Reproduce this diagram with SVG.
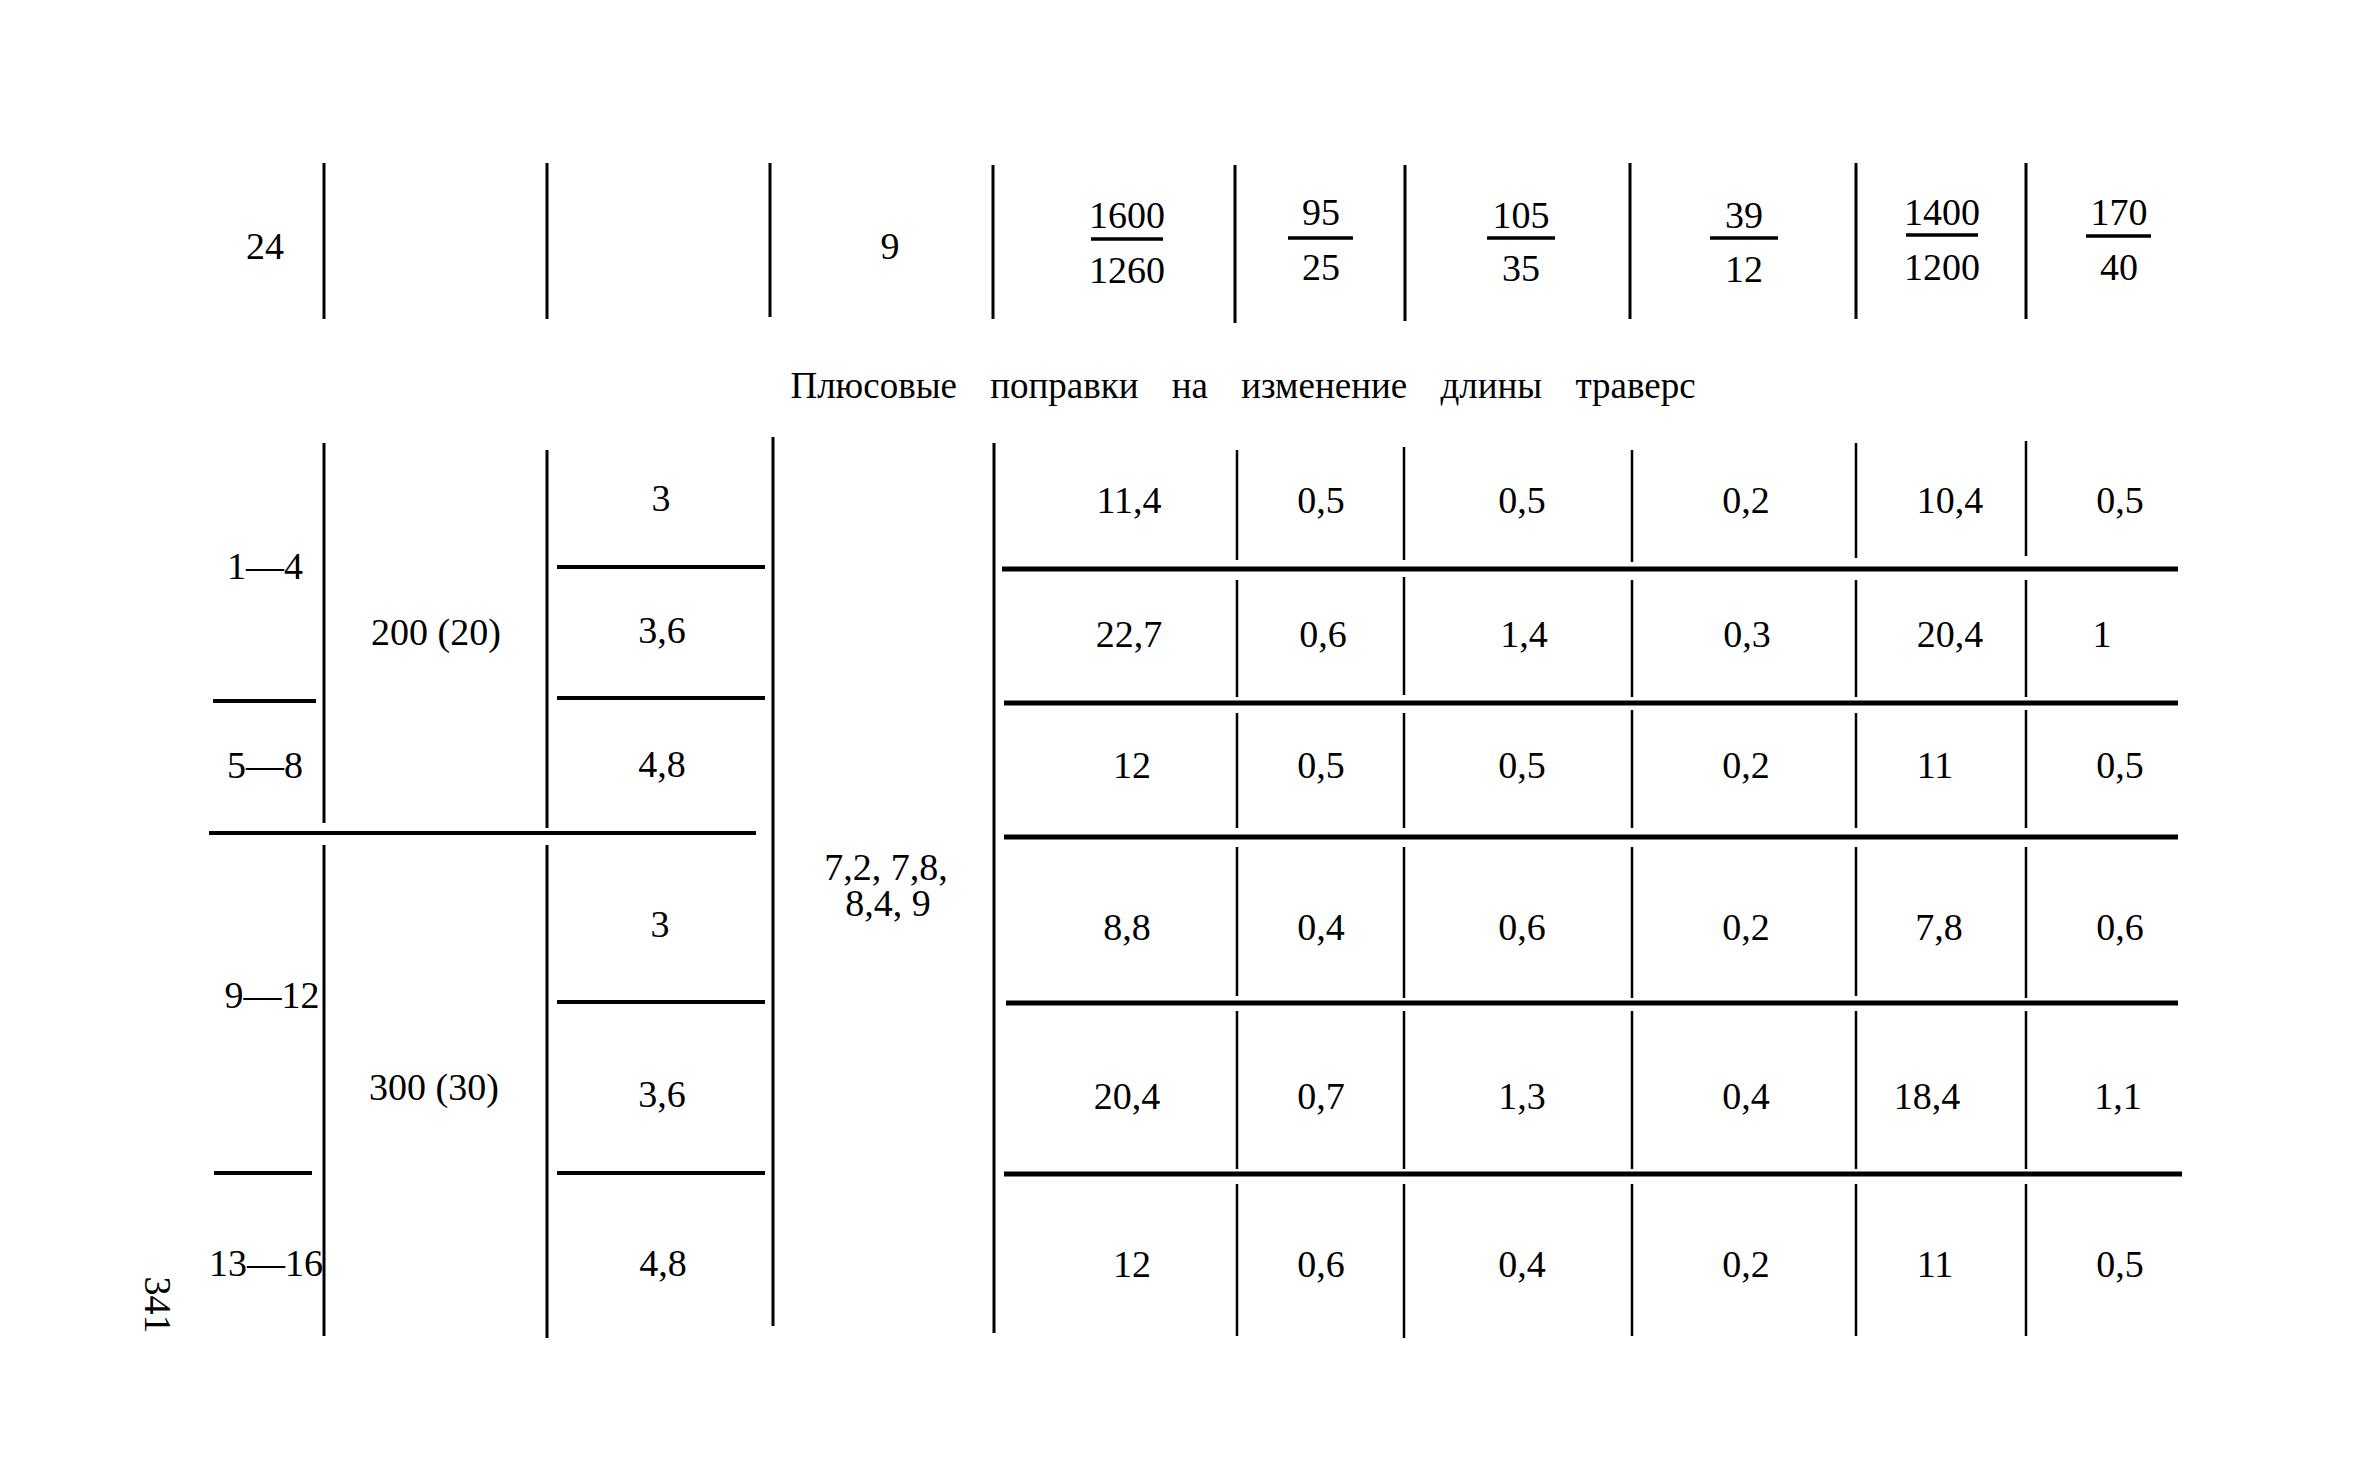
<svg xmlns="http://www.w3.org/2000/svg" width="2362" height="1476" viewBox="0 0 2362 1476">
<style>
.t{font-family:"Liberation Serif","DejaVu Serif",serif;font-size:38px;fill:#000;text-anchor:middle}
.ttl{font-family:"Liberation Serif","DejaVu Serif",serif;font-size:37px;fill:#000;text-anchor:middle;word-spacing:24px}
.v{stroke:#000;stroke-width:3;fill:none}
.vt{stroke:#000;stroke-width:2.5;fill:none}
.h{stroke:#000;stroke-width:4;fill:none}
.hb{stroke:#000;stroke-width:5;fill:none}
.fb{stroke:#000;stroke-width:3.5;fill:none}
</style>
<rect width="2362" height="1476" fill="#fff"/>

<g id="connectors">
  <!-- top row verticals -->
  <path class="v" d="M324 163V319 M547 163V319 M770 163V317 M993 165V319 M1235 165V323 M1405 165V321 M1630 163V319 M1856 163V319 M2026 163V319"/>
  <!-- fraction bars -->
  <path class="fb" d="M1091 239H1163 M1288 238H1353 M1487 238H1555 M1710 238H1778 M1906 235H1978 M2086 236H2151"/>
  <!-- lower left verticals -->
  <path class="v" d="M324 443V823 M324 845V1336 M547 450V828 M547 845V1338 M773 437V1326 M994 443V1333"/>
  <!-- left horizontals -->
  <path class="h" d="M557 567H765 M557 698H765 M557 1002H765 M557 1173H765 M213 701H316 M214 1173H312"/>
  <path class="h" d="M209 833H756"/>
  <!-- right horizontals -->
  <path class="hb" d="M1002 569H2178 M1004 703H2178 M1004 837H2178 M1006 1003H2178 M1004 1174H2182"/>
  <!-- right data verticals per row -->
  <path class="vt" d="M1237 450V560 M1404 447V560 M1632 450V562 M1856 443V558 M2026 441V556"/>
  <path class="vt" d="M1237 580V697 M1404 577V695 M1632 580V697 M1856 580V697 M2026 580V697"/>
  <path class="vt" d="M1237 713V828 M1404 713V828 M1632 710V828 M1856 713V828 M2026 710V828"/>
  <path class="vt" d="M1237 847V996 M1404 847V998 M1632 847V998 M1856 847V996 M2026 847V998"/>
  <path class="vt" d="M1237 1011V1169 M1404 1011V1169 M1632 1011V1169 M1856 1011V1169 M2026 1011V1169"/>
  <path class="vt" d="M1237 1184V1336 M1404 1184V1338 M1632 1184V1336 M1856 1184V1336 M2026 1184V1336"/>
</g>

<g id="top-row">
  <text class="t" x="265" y="259">24</text>
  <text class="t" x="890" y="259">9</text>
  <text class="t" x="1127" y="228">1600</text>
  <text class="t" x="1127" y="283">1260</text>
  <text class="t" x="1321" y="225">95</text>
  <text class="t" x="1321" y="280">25</text>
  <text class="t" x="1521" y="228">105</text>
  <text class="t" x="1521" y="281">35</text>
  <text class="t" x="1744" y="228">39</text>
  <text class="t" x="1744" y="282">12</text>
  <text class="t" x="1942" y="225">1400</text>
  <text class="t" x="1942" y="280">1200</text>
  <text class="t" x="2119" y="225">170</text>
  <text class="t" x="2119" y="280">40</text>
</g>

<g id="title">
  <text class="ttl" x="1243" y="398">Плюсовые поправки на изменение длины траверс</text>
</g>

<g id="left-cols">
  <text class="t" x="265" y="579">1—4</text>
  <text class="t" x="265" y="778">5—8</text>
  <text class="t" x="272" y="1008">9—12</text>
  <text class="t" x="266" y="1276">13—16</text>
  <text class="t" x="436" y="645">200 (20)</text>
  <text class="t" x="434" y="1100">300 (30)</text>
  <text class="t" x="661" y="511">3</text>
  <text class="t" x="662" y="643">3,6</text>
  <text class="t" x="662" y="777">4,8</text>
  <text class="t" x="660" y="937">3</text>
  <text class="t" x="662" y="1107">3,6</text>
  <text class="t" x="663" y="1276">4,8</text>
  <text class="t" x="886" y="880">7,2, 7,8,</text>
  <text class="t" x="888" y="916">8,4, 9</text>
</g>

<g id="data-rows">
  <text class="t" x="1129" y="513">11,4</text>
  <text class="t" x="1321" y="513">0,5</text>
  <text class="t" x="1522" y="513">0,5</text>
  <text class="t" x="1746" y="513">0,2</text>
  <text class="t" x="1950" y="513">10,4</text>
  <text class="t" x="2120" y="513">0,5</text>

  <text class="t" x="1129" y="647">22,7</text>
  <text class="t" x="1323" y="647">0,6</text>
  <text class="t" x="1524" y="647">1,4</text>
  <text class="t" x="1747" y="647">0,3</text>
  <text class="t" x="1950" y="647">20,4</text>
  <text class="t" x="2102" y="647">1</text>

  <text class="t" x="1132" y="778">12</text>
  <text class="t" x="1321" y="778">0,5</text>
  <text class="t" x="1522" y="778">0,5</text>
  <text class="t" x="1746" y="778">0,2</text>
  <text class="t" x="1935" y="778">11</text>
  <text class="t" x="2120" y="778">0,5</text>

  <text class="t" x="1127" y="940">8,8</text>
  <text class="t" x="1321" y="940">0,4</text>
  <text class="t" x="1522" y="940">0,6</text>
  <text class="t" x="1746" y="940">0,2</text>
  <text class="t" x="1939" y="940">7,8</text>
  <text class="t" x="2120" y="940">0,6</text>

  <text class="t" x="1127" y="1109">20,4</text>
  <text class="t" x="1321" y="1109">0,7</text>
  <text class="t" x="1522" y="1109">1,3</text>
  <text class="t" x="1746" y="1109">0,4</text>
  <text class="t" x="1927" y="1109">18,4</text>
  <text class="t" x="2118" y="1109">1,1</text>

  <text class="t" x="1132" y="1277">12</text>
  <text class="t" x="1321" y="1277">0,6</text>
  <text class="t" x="1522" y="1277">0,4</text>
  <text class="t" x="1746" y="1277">0,2</text>
  <text class="t" x="1935" y="1277">11</text>
  <text class="t" x="2120" y="1277">0,5</text>
</g>

<g id="page-number">
  <text class="t" transform="translate(145,1305) rotate(90)" x="0" y="0">341</text>
</g>
</svg>
